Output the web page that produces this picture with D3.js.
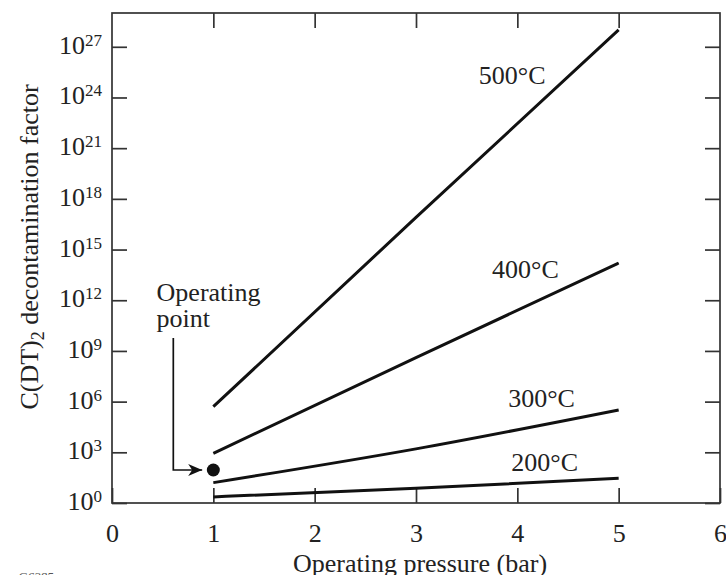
<!DOCTYPE html>
<html>
<head>
<meta charset="utf-8">
<script src="https://cdn.jsdelivr.net/npm/d3@7"></script>
<style>
  body { margin: 0; background: #fff; }
  svg { display: block; font-family: 'Liberation Serif', 'Times New Roman', serif; }
</style>
</head>
<body>
<div id="vis"></div>
<script>
// values
const xTicks = [0, 1, 2, 3, 4, 5, 6]
const xInner = [1, 2, 3, 4, 5]
const yExponents = [0, 3, 6, 9, 12, 15, 18, 21, 24, 27]

const pressure = [1, 3, 5]
const df500 = [5e5, 8e16, 1e28]
const df400 = [870, 4e8, 1.6e14]
const df300 = [16, 1600, 3.2e5]
const df200 = [2.3, 7.4, 29]

const seriesNames = ['500°C', '400°C', '300°C', '200°C']
const seriesValues = [df500, df400, df300, df200]
const labelX = [3.62, 3.75, 3.91, 3.94]
const labelY = [6e24, 2e13, 4.8e5, 78]

const opPoint = { p: 1, df: 90 }
const opArrow = [[0.605, 5.8e9], [0.605, 90], [0.89, 90]]
const opText = ['Operating', 'point']

const width = 726
const height = 575
const margin = { top: 13, right: 6, bottom: 72, left: 112 }
const chartWidth = width - margin.left - margin.right
const chartHeight = height - margin.top - margin.bottom

const svg = d3.select('#vis').append('svg')
  .attr('width', width).attr('height', height)
  .attr('viewBox', [0, 0, width, height])

const g = svg.append('g')
  .attr('transform', `translate(${margin.left},${margin.top})`)

const x = d3.scaleLinear().domain([0, 6]).range([0, chartWidth])
const y = d3.scaleLog().domain([1, 1e29]).range([chartHeight, 0])

const frameColor = '#333'
const yTickValues = yExponents.map((e) => Math.pow(10, e))

// axes, ticks pointing inward
const axisB = g.append('g')
  .attr('transform', `translate(0,${chartHeight})`)
  .call(d3.axisBottom(x).tickValues(xTicks).tickSizeInner(-15).tickSizeOuter(0).tickPadding(21).tickFormat(d3.format('d')))
const axisT = g.append('g')
  .call(d3.axisTop(x).tickValues(xInner).tickSizeInner(-15).tickSizeOuter(0).tickFormat(''))
const axisL = g.append('g')
  .call(d3.axisLeft(y).tickValues(yTickValues).tickSizeInner(-15).tickSizeOuter(0).tickFormat(''))
const axisR = g.append('g')
  .attr('transform', `translate(${chartWidth},0)`)
  .call(d3.axisRight(y).tickValues(yTickValues).tickSizeInner(-15).tickSizeOuter(0).tickFormat(''))

;[axisB, axisT, axisL, axisR].forEach((a) => {
  a.select('.domain').remove()
  a.selectAll('line').attr('stroke', frameColor).attr('stroke-width', 1.7)
})
axisB.selectAll('text')
  .attr('font-size', 26).attr('fill', '#222')
  .style('font-family', 'Liberation Serif, serif')

g.append('rect')
  .attr('width', chartWidth).attr('height', chartHeight)
  .attr('fill', 'none').attr('stroke', frameColor).attr('stroke-width', 1.7)

// y tick labels 10^n
const yLabels = g.append('g')
yExponents.forEach((e) => {
  const t = yLabels.append('text')
    .attr('x', -10)
    .attr('y', y(Math.pow(10, e)) + 7)
    .attr('text-anchor', 'end')
    .attr('font-size', 26)
    .attr('fill', '#222')
  t.append('tspan').text('10')
  t.append('tspan').attr('dy', -8).attr('font-size', 17).text(e)
})

// data lines
const line = d3.line()
  .curve(d3.curveMonotoneX)
  .x((d) => x(d[0]))
  .y((d) => y(d[1]))

seriesValues.forEach((vals, i) => {
  g.append('path')
    .attr('d', line(pressure.map((p, j) => [p, vals[j]])))
    .attr('fill', 'none')
    .attr('stroke', '#111')
    .attr('stroke-width', 3)

  g.append('text')
    .attr('x', x(labelX[i]))
    .attr('y', y(labelY[i]))
    .attr('font-size', 26)
    .attr('fill', '#222')
    .text(seriesNames[i])
})

// operating point
svg.append('defs').append('marker')
  .attr('id', 'arrow')
  .attr('viewBox', '-15 -7 16 14')
  .attr('refX', 0).attr('refY', 0)
  .attr('markerWidth', 16).attr('markerHeight', 14)
  .attr('markerUnits', 'userSpaceOnUse')
  .attr('orient', 'auto')
  .append('path')
  .attr('d', 'M0,0L-14,-6L-10,0L-14,6Z')
  .attr('fill', '#111')

g.append('path')
  .attr('d', d3.line().x((d) => x(d[0])).y((d) => y(d[1]))(opArrow))
  .attr('fill', 'none')
  .attr('stroke', '#111')
  .attr('stroke-width', 1.7)
  .attr('marker-end', 'url(#arrow)')

g.append('circle')
  .attr('cx', x(opPoint.p))
  .attr('cy', y(opPoint.df))
  .attr('r', 6.5)
  .attr('fill', '#111')

const opLabel = g.append('text')
  .attr('font-size', 26)
  .attr('fill', '#222')
opText.forEach((s, i) => {
  opLabel.append('tspan')
    .attr('x', x(0.44))
    .attr('y', y(5.8e9) - 37 + i * 26)
    .text(s)
})

// axis titles
svg.append('text')
  .attr('x', margin.left + chartWidth / 2 + 4)
  .attr('y', 572)
  .attr('text-anchor', 'middle')
  .attr('font-size', 26)
  .attr('fill', '#222')
  .text('Operating pressure (bar)')

const yTitle = svg.append('text')
  .attr('transform', 'translate(38,247) rotate(-90)')
  .attr('text-anchor', 'middle')
  .attr('font-size', 26)
  .attr('fill', '#222')
yTitle.append('tspan').text('C(DT)')
yTitle.append('tspan').attr('dy', 6).attr('font-size', 18).text('2')
yTitle.append('tspan').attr('dy', -6).text(' decontamination factor')

svg.append('text')
  .attr('x', 18)
  .attr('y', 581)
  .attr('font-size', 13)
  .attr('font-style', 'italic')
  .attr('fill', '#555')
  .text('G6285')
</script>
</body>
</html>
